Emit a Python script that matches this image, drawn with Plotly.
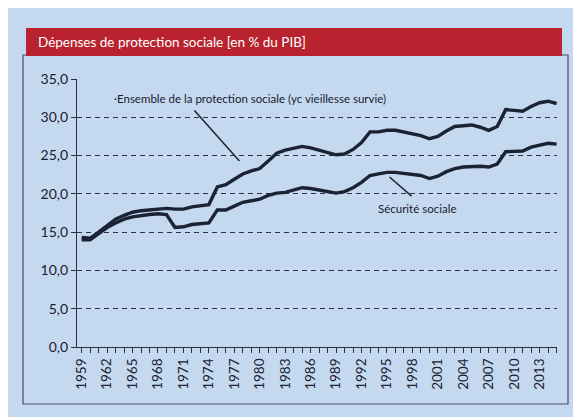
import plotly.graph_objects as go

years = list(range(1959, 2016))
ensemble = [14.3, 14.2, 15.0, 15.9, 16.7, 17.2, 17.6, 17.8, 17.9, 18.1,
            18.1, 18.0, 18.0, 18.3, 18.4, 18.6, 20.9, 21.2, 21.9, 22.6,
            23.0, 23.3, 24.3, 25.3, 25.7, 25.9, 26.2, 26.0, 25.7, 25.3,
            25.1, 25.2, 25.8, 26.7, 28.1, 28.1, 28.3, 28.3, 28.1, 27.8,
            27.6, 27.2, 27.5, 28.2, 28.8, 28.9, 29.0, 28.7, 28.3, 28.8,
            31.0, 30.9, 30.8, 31.4, 31.9, 32.1, 31.8]
secu = [14.0, 14.0, 14.8, 15.6, 16.2, 16.7, 17.0, 17.2, 17.3, 17.4,
        17.3, 15.6, 15.7, 16.0, 16.1, 16.2, 17.9, 17.9, 18.4, 18.9,
        19.1, 19.3, 19.8, 20.1, 20.2, 20.5, 20.8, 20.7, 20.5, 20.3,
        20.1, 20.3, 20.8, 21.5, 22.4, 22.6, 22.8, 22.8, 22.7, 22.5,
        22.4, 22.0, 22.3, 22.9, 23.3, 23.5, 23.6, 23.6, 23.5, 23.9,
        25.5, 25.5, 25.6, 26.1, 26.4, 26.6, 26.5]
y_ticks = [0, 5, 10, 15, 20, 25, 30, 35]

title = "Dépenses de protection sociale [en % du PIB]"
label_ens = "·Ensemble de la protection sociale (yc vieillesse survie)"
label_secu = "Sécurité sociale"

line_col = "#1b2233"
bg = "#c4d9ef"
font = "Lato, 'Open Sans', sans-serif"

# plot area in page pixels: x 77..557, y 79..347 (page has an 8px body margin)
PW, PH = 480, 268

def px(xp):
    return (xp - 77) / PW

def py(yp):
    return (347 - yp) / PH

fig = go.Figure()
fig.add_trace(go.Scatter(x=years, y=ensemble, mode="lines",
                         line=dict(color=line_col, width=3.4), showlegend=False))
fig.add_trace(go.Scatter(x=years, y=secu, mode="lines",
                         line=dict(color=line_col, width=3.4), showlegend=False))

fig.update_layout(
    width=573, height=409,
    margin=dict(l=69, r=24, t=71, b=70),
    paper_bgcolor=bg, plot_bgcolor=bg,
    separators=", ",
    font=dict(family=font, color="#1a2030"),
    xaxis=dict(
        range=[1958.45, 2015.05], tickmode="linear", tick0=1959, dtick=3,
        ticks="outside", ticklen=5, tickwidth=1, tickcolor="#2a3040",
        tickangle=-90, tickfont=dict(size=13.5, color="#1a2030"),
        showline=True, linecolor="#2a3040", linewidth=1.2,
        showgrid=False, zeroline=False,
        minor=dict(dtick=1, tick0=1959, ticks="outside", ticklen=5,
                   tickcolor="#2a3040", showgrid=False),
    ),
    yaxis=dict(
        range=[0, 35], tickvals=y_ticks, tickformat=".1f",
        ticks="outside", ticklen=5, tickcolor="#2a3040",
        tickfont=dict(size=14, color="#1a2030"),
        showline=True, linecolor="#2a3040", linewidth=1.2,
        showgrid=True, gridcolor="#2a3245", gridwidth=1.2,
        griddash="5px,4px", zeroline=False,
    ),
    shapes=[
        # outer box
        dict(type="rect", xref="paper", yref="paper",
             x0=px(23), x1=px(568), y0=py(404), y1=py(55),
             line=dict(color="#4a4a66", width=1.2), fillcolor="rgba(0,0,0,0)"),
        # red header
        dict(type="rect", xref="paper", yref="paper",
             x0=px(26), x1=px(562), y0=py(56), y1=py(28),
             fillcolor="#b8232f", line=dict(width=0)),
        # leader lines
        dict(type="line", xref="x", yref="y", x0=1972.3, y0=30.9, x1=1977.6, y1=24.3,
             line=dict(color=line_col, width=1.5)),
        dict(type="line", xref="x", yref="y", x0=1995.3, y0=22.2, x1=1997.9, y1=19.7,
             line=dict(color=line_col, width=1.5)),
    ],
    annotations=[
        dict(text=title, xref="paper", yref="paper",
             x=px(36), y=py(42), xanchor="left", yanchor="middle",
             showarrow=False, font=dict(size=13.5, color="white", family=font)),
        dict(text=label_ens, xref="x", yref="y", x=1962.6, y=32.4,
             xanchor="left", yanchor="middle", showarrow=False,
             font=dict(size=11.5, color="#1a2030", family=font)),
        dict(text=label_secu, xref="x", yref="y", x=1998.6, y=18.1,
             xanchor="center", yanchor="middle", showarrow=False,
             font=dict(size=11.5, color="#1a2030", family=font)),
    ],
)

fig.write_html("out.html")
